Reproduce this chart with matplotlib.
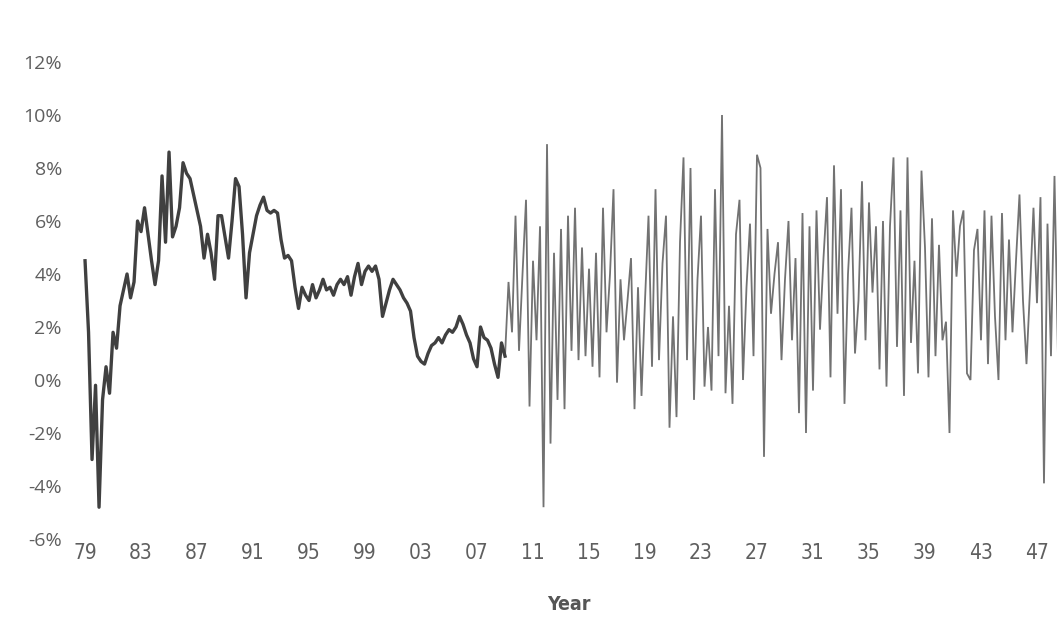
import numpy as np
import matplotlib
matplotlib.use("Agg")
import matplotlib.pyplot as plt
from matplotlib.ticker import FuncFormatter

# ---------------------------------------------------------------------------
# data (percent)
# ---------------------------------------------------------------------------
hist_start = 1979.0      # first quarter of the historical series
sim_start = 2009.25      # first quarter of the simulated series
step = 0.25              # quarterly

hist_values = [
    4.5, 1.8, -3.0, -0.2, -4.8, -0.75, 0.5, -0.5, 1.8, 1.2,
    2.8, 3.4, 4.0, 3.1, 3.7, 6.0, 5.6, 6.5, 5.5, 4.5,
    3.6, 4.5, 7.7, 5.2, 8.6, 5.4, 5.8, 6.5, 8.2, 7.8,
    7.6, 7.0, 6.4, 5.8, 4.6, 5.5, 4.8, 3.8, 6.2, 6.2,
    5.4, 4.6, 6.0, 7.6, 7.3, 5.5, 3.1, 4.8, 5.5, 6.2,
    6.6, 6.9, 6.4, 6.3, 6.4, 6.3, 5.3, 4.6, 4.7, 4.5,
    3.5, 2.7, 3.5, 3.2, 3.0, 3.6, 3.1, 3.4, 3.8, 3.4,
    3.5, 3.2, 3.6, 3.8, 3.6, 3.9, 3.2, 3.9, 4.4, 3.6,
    4.1, 4.3, 4.1, 4.3, 3.8, 2.4, 2.9, 3.4, 3.8, 3.6,
    3.4, 3.1, 2.9, 2.6, 1.6, 0.9, 0.7, 0.6, 1.0, 1.3,
    1.4, 1.6, 1.4, 1.7, 1.9, 1.8, 2.0, 2.4, 2.1, 1.7,
    1.4, 0.8, 0.5, 2.0, 1.6, 1.5, 1.2, 0.6, 0.1, 1.4,
    0.9,
]

sim_values = [
    3.7, 1.8, 6.2, 1.1, 4.0, 6.8, -1.0, 4.5, 1.5, 5.8,
    -4.8, 8.9, -2.4, 4.8, -0.75, 5.7, -1.1, 6.2, 1.1, 6.5,
    0.75, 5.0, 0.9, 4.2, 0.5, 4.8, 0.1, 6.5, 1.8, 4.0,
    7.2, -0.1, 3.8, 1.5, 3.0, 4.6, -1.1, 3.5, -0.6, 3.0,
    6.2, 0.5, 7.2, 0.75, 4.4, 6.2, -1.8, 2.4, -1.4, 5.2,
    8.4, 0.75, 8.0, -0.75, 3.8, 6.2, -0.25, 2.0, -0.4, 7.2,
    0.9, 10.0, -0.5, 2.8, -0.9, 5.5, 6.8, 0.0, 3.5, 5.9,
    0.9, 8.5, 8.0, -2.9, 5.7, 2.5, 4.0, 5.2, 0.75, 3.8,
    6.0, 1.5, 4.6, -1.25, 6.3, -2.0, 5.8, -0.4, 6.4, 1.9,
    4.6, 6.9, 0.1, 8.1, 2.5, 7.2, -0.9, 4.0, 6.5, 1.0,
    3.0, 7.5, 1.5, 6.7, 3.3, 5.8, 0.4, 6.0, -0.25, 5.8,
    8.4, 1.25, 6.4, -0.6, 8.4, 1.4, 4.5, 0.25, 7.9, 5.0,
    0.1, 6.1, 0.9, 5.1, 1.5, 2.2, -2.0, 6.4, 3.9, 5.8,
    6.4, 0.25, 0.0, 4.9, 5.7, 1.5, 6.4, 0.6, 6.2, 2.4,
    0.0, 6.3, 1.5, 5.3, 1.8, 4.5, 7.0, 3.0, 0.6, 3.4,
    6.5, 2.9, 6.9, -3.9, 5.9, 0.9, 7.7, 0.9,
]

tick_years = list(range(1979, 2048, 4))
y_ticks = [-6, -4, -2, 0, 2, 4, 6, 8, 10, 12]

hist_x = hist_start + step * np.arange(len(hist_values))
sim_x = sim_start + step * np.arange(len(sim_values))

# ---------------------------------------------------------------------------
# figure
# ---------------------------------------------------------------------------
fig = plt.figure(figsize=(10.57, 6.34), dpi=100)
ax = fig.add_axes([80 / 1057, 95 / 634, 977 / 1057, 477 / 634])

# simulated part (lighter), joined to the last historical point
ax.plot(np.r_[hist_x[-1], sim_x], np.r_[hist_values[-1], sim_values],
        color="#727272", linewidth=1.3, solid_joinstyle="miter")
ax.plot(hist_x, hist_values, color="#404040", linewidth=2.4,
        solid_joinstyle="round")

ax.set_xlim(1978.64, 2048.43)
ax.set_ylim(-6, 12)

ax.set_yticks(y_ticks)
ax.yaxis.set_major_formatter(FuncFormatter(lambda v, p: f"{v:.0f}%"))
ax.set_xticks(tick_years)
ax.set_xticklabels([f"{y % 100:02d}" for y in tick_years])

for s in ax.spines.values():
    s.set_visible(False)
ax.tick_params(axis="both", length=0)
ax.tick_params(axis="y", pad=13, labelsize=14, labelcolor="#5f5f5f")
ax.tick_params(axis="x", pad=3, labelsize=15, labelcolor="#5f5f5f")
for lab in ax.get_yticklabels():
    lab.set_family(["Open Sans", "DejaVu Sans"])
for lab in ax.get_xticklabels():
    lab.set_family(["Liberation Sans Narrow", "DejaVu Sans"])
    lab.set_fontstretch("condensed")

ax.set_xlabel("Year", fontsize=14, fontweight="bold", color="#555555",
              family=["Liberation Sans Narrow", "DejaVu Sans"],
              fontstretch="condensed", labelpad=23)

fig.savefig("out.png", dpi=100, facecolor="white")
